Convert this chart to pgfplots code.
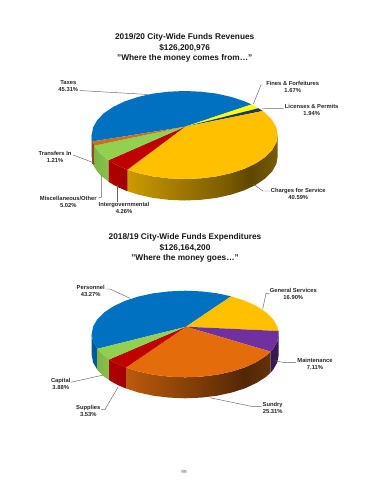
\documentclass[border=0pt]{standalone}
\usepackage{fontspec}
\setmainfont{Liberation Sans}
\usepackage{pgfplots}
\pgfplotsset{compat=1.18}
\definecolor{cblue}{HTML}{0070C0}
\definecolor{cgold}{HTML}{FFC000}
\definecolor{cred}{HTML}{C00000}
\definecolor{cgreen}{HTML}{92D050}
\definecolor{corange}{HTML}{E46C0A}
\definecolor{cpurple}{HTML}{7030A0}
\definecolor{cyel}{HTML}{FFFF00}
\definecolor{cnavy}{HTML}{1F3864}
\definecolor{cbrown}{HTML}{C87020}
\definecolor{ca}{HTML}{CC9A00}\definecolor{cb}{HTML}{A67D00}\definecolor{cc}{HTML}{7A5C00}\definecolor{cd}{HTML}{5E4600}\definecolor{ce}{HTML}{7A5C08}
\definecolor{sa}{HTML}{BC5A0C}\definecolor{sb}{HTML}{964808}\definecolor{sc}{HTML}{6E3406}\definecolor{sd}{HTML}{532704}\definecolor{se}{HTML}{653208}
\definecolor{ra}{HTML}{B40000}\definecolor{rb}{HTML}{9E0000}
\definecolor{ga}{HTML}{7AAE42}\definecolor{gb}{HTML}{8CC84C}
\pgfdeclarehorizontalshading{chargeside}{100bp}{color(0bp)=(ca); color(25bp)=(ca); color(40bp)=(cb); color(58bp)=(cc); color(66bp)=(cd); color(75bp)=(ce); color(100bp)=(ce)}
\pgfdeclarehorizontalshading{sundryside}{100bp}{color(0bp)=(sa); color(25bp)=(sa); color(40bp)=(sb); color(56bp)=(sc); color(66bp)=(sd); color(75bp)=(se); color(100bp)=(se)}
\pgfdeclarehorizontalshading{redside}{100bp}{color(0bp)=(ra); color(100bp)=(rb)}
\pgfdeclarehorizontalshading{greenside}{100bp}{color(0bp)=(ga); color(100bp)=(gb)}
\tikzset{lab/.style={align=center,inner sep=0pt,font=\fontsize{5.8}{7}\selectfont\bfseries,text=black!85},
 tit/.style={align=center,inner sep=0pt,font=\fontsize{8.3}{10.3}\selectfont\bfseries,text=black!90}}
\pgfplotsset{ll/.style={draw=black!60,line width=0.45pt,no markers,forget plot},
 face/.style={draw=none,no markers,forget plot}}
\begin{document}
\begin{tikzpicture}
\begin{axis}[scale only axis,width=370pt,height=480pt,xmin=0,xmax=370,ymin=0,ymax=480,y dir=reverse,hide axis,clip=false]
\fill[white] (axis cs:0,0) rectangle (axis cs:370,480);
% ---------- revenues: sides
\addplot[face,fill=cblue!80!black] coordinates {(91.7,135)(93.1,142.6)(92,141.5)(92,163)(93.1,164.1)(91.7,156.5)};
\addplot[face,fill=cbrown!70!black] coordinates {(92,141.5)(93.1,142.6)(94.5,145.6)(94.5,167.1)(93.1,164.1)(92,163)};
\addplot[face,shading=greenside] coordinates {(94.5,145.6)(97.3,150)(100.4,153.6)(108.5,160.2)(108.5,181.7)(100.4,175.1)(97.3,171.5)(94.5,167.1)};
\addplot[face,shading=redside] coordinates {(108.5,160.2)(113.5,163.3)(118.9,166.1)(127.4,169.7)(127.4,191.2)(118.9,187.6)(113.5,184.8)(108.5,181.7)};
\addplot[face,shading=chargeside] coordinates {(127.4,169.7)(138.2,173.1)(152.9,176.4)(168.5,178.3)(184.7,179)(200.9,178.3)(216.5,176.4)(231.2,173.1)(244.5,168.7)(255.9,163.3)(265.2,157)(272.1,150)(276.3,142.6)(277.7,135)(277.7,156.5)(276.3,164.1)(272.1,171.5)(265.2,178.5)(255.9,184.8)(244.5,190.2)(231.2,194.6)(216.5,197.9)(200.9,199.8)(184.7,200.5)(168.5,199.8)(152.9,197.9)(138.2,194.6)(127.4,191.2)};
% ---------- revenues: top face
\addplot[face,fill=cblue] coordinates {(185,126.7)(92,141.5)(91.7,135)(93.1,127.4)(97.3,120)(104.2,113)(113.5,106.7)(124.9,101.3)(138.2,96.9)(152.9,93.6)(168.5,91.7)(184.7,91)(200.9,91.7)(216.5,93.6)(231.2,96.9)(244.5,101.3)(251.6,104.4)};
\addplot[face,fill=cyel] coordinates {(185,126.7)(251.6,104.4)(258.4,108.2)};
\addplot[face,fill=cnavy] coordinates {(185,126.7)(258.4,108.2)(262.7,111)};
\addplot[face,fill=cgold] coordinates {(185,126.7)(262.7,111)(265.2,113)(272.1,120)(276.3,127.4)(277.7,135)(276.3,142.6)(272.1,150)(265.2,157)(255.9,163.3)(244.5,168.7)(231.2,173.1)(216.5,176.4)(200.9,178.3)(184.7,179)(168.5,178.3)(152.9,176.4)(138.2,173.1)(127.4,169.7)};
\addplot[face,fill=cred] coordinates {(185,126.7)(127.4,169.7)(118.9,166.1)(113.5,163.3)(108.5,160.2)};
\addplot[face,fill=cgreen] coordinates {(185,126.7)(108.5,160.2)(100.4,153.6)(97.3,150)(94.5,145.6)};
\addplot[face,fill=cbrown] coordinates {(185,126.7)(94.5,145.6)(93.1,142.6)(92,141.5)};
% ---------- revenues: leader lines
\addplot[ll] coordinates {(79.5,90.5)(148,94.5)};
\addplot[ll] coordinates {(263.3,85)(261,85)(253.3,104)};
\addplot[ll] coordinates {(283.3,108.3)(262,108.5)};
\addplot[ll] coordinates {(270,191)(263,191)(253,184)};
\addplot[ll] coordinates {(117.7,201.7)(117.7,185)};
\addplot[ll] coordinates {(98.3,198)(101.7,197)(101.7,175)};
\addplot[ll] coordinates {(73.3,155)(95,163.3)};
% ---------- expenditures: sides
\addplot[face,fill=cblue!80!black] coordinates {(91.7,334)(93.1,341.5)(97.3,348.8)(97.3,369.8)(93.1,362.5)(91.7,355)};
\addplot[face,shading=greenside] coordinates {(97.3,348.8)(104.2,355.7)(109.4,359.3)(109.4,380.3)(104.2,376.7)(97.3,369.8)};
\addplot[face,shading=redside] coordinates {(109.4,359.3)(113.6,361.8)(119.1,364.6)(126,367.5)(126,388.5)(119.1,385.6)(113.6,382.8)(109.4,380.3)};
\addplot[face,shading=sundryside] coordinates {(126,367.5)(138.5,371.5)(153.2,374.7)(169,376.6)(185.2,377.3)(201.4,376.6)(217.2,374.7)(231.9,371.5)(245.3,367.2)(256.8,361.8)(266.2,355.7)(270.6,351.6)(270.6,372.6)(266.2,376.7)(256.8,382.8)(245.3,388.2)(231.9,392.5)(217.2,395.7)(201.4,397.6)(185.2,398.3)(169,397.6)(153.2,395.7)(138.5,392.5)(126,388.5)};
\addplot[face,fill=cpurple!50!black] coordinates {(270.6,351.6)(273.1,348.8)(277.3,341.5)(278.7,334)(278.7,355)(277.3,362.5)(273.1,369.8)(270.6,372.6)};
% ---------- expenditures: top face
\addplot[face,fill=cblue] coordinates {(186,326.7)(97.3,348.8)(93.1,341.5)(91.7,334)(93.1,326.5)(97.3,319.2)(104.2,312.4)(113.6,306.2)(125.1,300.8)(138.5,296.5)(153.2,293.3)(169,291.4)(185.2,290.7)(201.4,291.4)(217.2,293.3)(231.1,296.3)};
\addplot[face,fill=cgold] coordinates {(186,326.7)(231.1,296.3)(245.3,300.8)(256.8,306.2)(266.2,312.4)(273.1,319.2)(277.3,326.5)(278.5,331)};
\addplot[face,fill=cpurple] coordinates {(186,326.7)(278.5,331)(278.7,334)(277.3,341.5)(273.1,348.8)(270.6,351.6)};
\addplot[face,fill=corange] coordinates {(186,326.7)(270.6,351.6)(266.2,355.7)(256.8,361.8)(245.3,367.2)(231.9,371.5)(217.2,374.7)(201.4,376.6)(185.2,377.3)(169,376.6)(153.2,374.7)(138.5,371.5)(126,367.5)};
\addplot[face,fill=cred] coordinates {(186,326.7)(126,367.5)(119.1,364.6)(113.6,361.8)(109.4,359.3)};
\addplot[face,fill=cgreen] coordinates {(186,326.7)(109.4,359.3)(104.2,355.7)(97.3,348.8)};
% ---------- expenditures: leader lines
\addplot[ll] coordinates {(105.7,289)(110,289)(130,298.3)};
\addplot[ll] coordinates {(269.3,293.3)(266,293.3)(262.7,309.3)};
\addplot[ll] coordinates {(296,362.7)(285,362.7)(274.3,360.7)};
\addplot[ll] coordinates {(261.7,406.7)(253,406.7)(210,397.7)};
\addplot[ll] coordinates {(70.7,382.3)(103.3,375)};
\addplot[ll] coordinates {(101,409.3)(105,409.3)(118.3,386.7)};
% ---------- text
\node[tit] at (axis cs:184.7,48) {2019/20 City-Wide Funds Revenues\\\$126,200,976\\"Where the money comes from…"};
\node[lab] at (axis cs:68.3,86) {Taxes\\45.31\%};
\node[lab] at (axis cs:292.7,86.8) {Fines \& Forfeitures\\1.67\%};
\node[lab] at (axis cs:311.7,110) {Licenses \& Permits\\1.94\%};
\node[lab] at (axis cs:298.3,194.2) {Charges for Service\\40.59\%};
\node[lab] at (axis cs:124,208.4) {Intergovernmental\\4.26\%};
\node[lab] at (axis cs:68.3,201.8) {Miscellaneous/Other\\5.02\%};
\node[lab] at (axis cs:55,156.8) {Transfers In\\1.21\%};
\node[tit] at (axis cs:185,248) {2018/19 City-Wide Funds Expenditures\\\$126,164,200\\"Where the money goes…"};
\node[lab] at (axis cs:90.7,290.5) {Personnel\\43.27\%};
\node[lab] at (axis cs:293.3,294.2) {General Services\\16.90\%};
\node[lab] at (axis cs:315,364.2) {Maintenance\\7.11\%};
\node[lab] at (axis cs:272.7,408.4) {Sundry\\25.31\%};
\node[lab] at (axis cs:60.7,383.8) {Capital\\3.88\%};
\node[lab] at (axis cs:88.3,411.2) {Supplies\\3.53\%};
\node[inner sep=0pt,font=\fontsize{4.5}{5}\selectfont,text=black!70] at (axis cs:184,471.5) {99};
\end{axis}
\end{tikzpicture}
\end{document}
